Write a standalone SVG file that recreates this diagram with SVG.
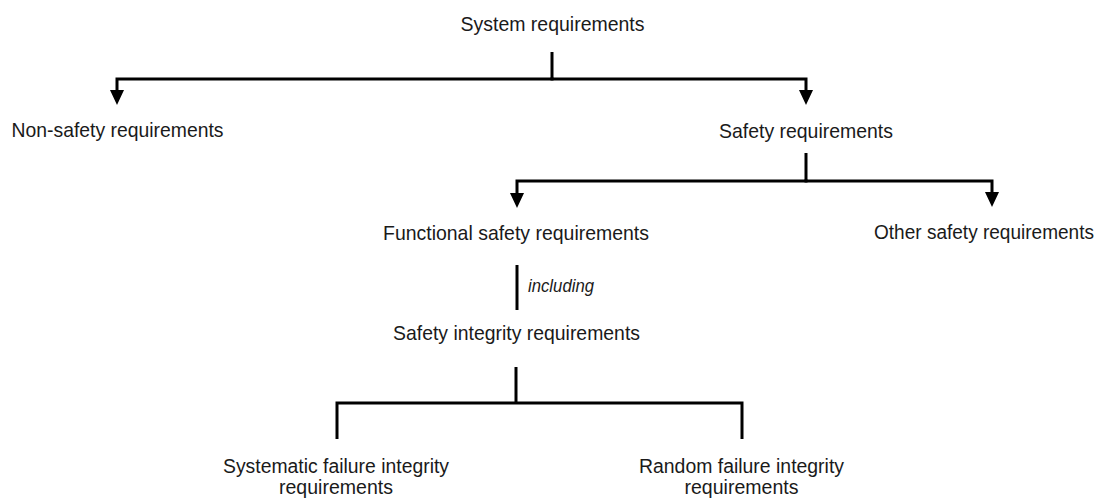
<svg xmlns="http://www.w3.org/2000/svg" width="1109" height="499" viewBox="0 0 1109 499">
<style>
  text { font-family: "Liberation Sans", Arial, sans-serif; font-size: 21px; fill: #1a1a1a; text-anchor: middle; }
  .it { font-style: italic; font-size: 18px; text-anchor: start; }
  .sm { font-size: 20px; }
  .ln { fill: none; stroke: #000; stroke-width: 3; stroke-linejoin: miter; }
</style>
<defs>
  <marker id="ah" markerUnits="userSpaceOnUse" markerWidth="16" markerHeight="16" viewBox="0 0 16 16" refX="5" refY="8" orient="auto">
    <path d="M0 1 L15 8 L0 15 Z" fill="#000"/>
  </marker>
</defs>
<g id="connectors">
  <path class="ln" d="M552 52 V79"/>
  <path class="ln" d="M553.5 79 H117 V95" marker-end="url(#ah)"/>
  <path class="ln" d="M550.5 79 H806 V95" marker-end="url(#ah)"/>
  <path class="ln" d="M806 153 V181"/>
  <path class="ln" d="M807.5 181 H517 V198" marker-end="url(#ah)"/>
  <path class="ln" d="M804.5 181 H992 V197" marker-end="url(#ah)"/>
  <path class="ln" d="M517 265 V310"/>
  <path class="ln" d="M516 367 V403"/>
  <path class="ln" d="M516 403 H337 V439"/>
  <path class="ln" d="M516 403 H742 V439"/>
</g>
<g id="system"><text x="552.5" y="31" textLength="184" lengthAdjust="spacingAndGlyphs">System requirements</text></g>
<g id="nonsafety"><text x="117.5" y="137" textLength="212" lengthAdjust="spacingAndGlyphs">Non-safety requirements</text></g>
<g id="safety"><text x="806" y="138" textLength="174" lengthAdjust="spacingAndGlyphs">Safety requirements</text></g>
<g id="functional"><text x="516" y="240" textLength="266" lengthAdjust="spacingAndGlyphs">Functional safety requirements</text></g>
<g id="other"><text class="sm" x="984" y="239" textLength="220" lengthAdjust="spacingAndGlyphs">Other safety requirements</text></g>
<g id="including-label"><text class="it" x="528" y="292" textLength="66" lengthAdjust="spacingAndGlyphs">including</text></g>
<g id="integrity"><text x="516.5" y="340" textLength="247" lengthAdjust="spacingAndGlyphs">Safety integrity requirements</text></g>
<g id="systematic">
  <text class="sm" x="336" y="473" textLength="226" lengthAdjust="spacingAndGlyphs">Systematic failure integrity</text>
  <text class="sm" x="336" y="494" textLength="114" lengthAdjust="spacingAndGlyphs">requirements</text>
</g>
<g id="random">
  <text class="sm" x="741.5" y="473" textLength="205" lengthAdjust="spacingAndGlyphs">Random failure integrity</text>
  <text class="sm" x="741.5" y="494" textLength="114" lengthAdjust="spacingAndGlyphs">requirements</text>
</g>
</svg>
